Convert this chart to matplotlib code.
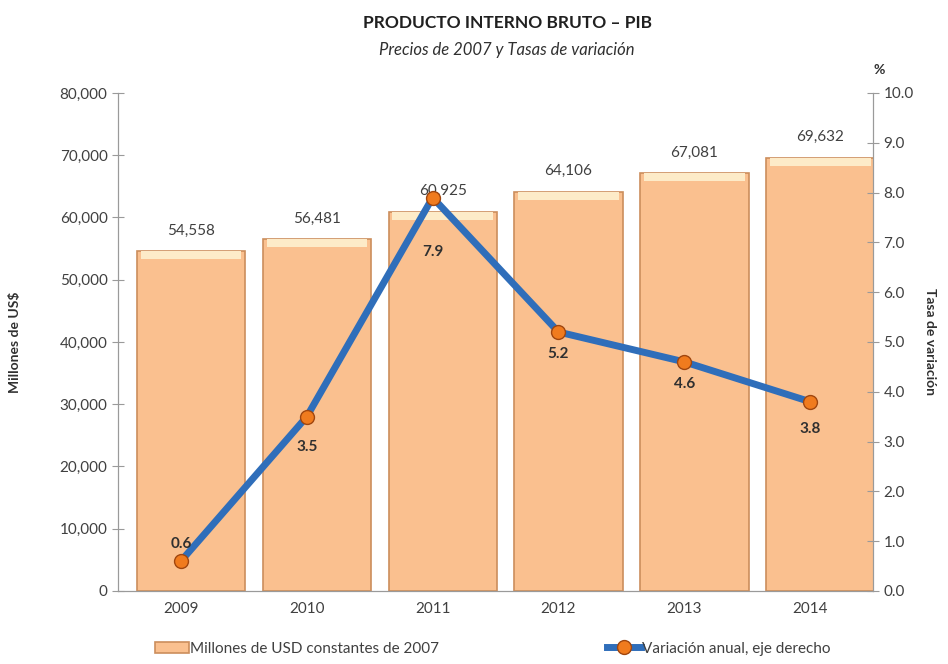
import matplotlib.pyplot as plt
import numpy as np

plt.rcParams['font.family'] = ['Lato', 'DejaVu Sans']

# Datos
anios = ['2009', '2010', '2011', '2012', '2013', '2014']
pib = [54558, 56481, 60925, 64106, 67081, 69632]
variacion = [0.6, 3.5, 7.9, 5.2, 4.6, 3.8]

gris = '#9a9a9a'
texto = '#404040'

fig = plt.figure(figsize=(9.48, 6.64), dpi=100)
ax = fig.add_axes([0.1245, 0.11, 0.7965, 0.75])
ax2 = ax.twinx()

x = np.arange(len(anios))

# Barras
barras = ax.bar(x + 0.08, pib, width=0.86, color='#FAC08F', edgecolor='#CC8E5C',
                linewidth=1.2, zorder=2, label='Millones de USD constantes de 2007')
# brillo en la parte superior de cada barra
franja = 1300
ax.bar(x + 0.08, [franja] * len(pib), bottom=[v - franja for v in pib], width=0.8,
       color='#FDEBC8', linewidth=0, zorder=2.5)
for b, v in zip(barras, pib):
    ax.text(b.get_x() + b.get_width() / 2, v + 2200, f'{v:,}', ha='center',
            va='bottom', fontsize=11, color=texto)

# Linea
linea, = ax2.plot(x, variacion, color='#2F6EBA', linewidth=5, marker='o',
                  markersize=10, markerfacecolor='#F07B1E', markeredgecolor='#A0460F',
                  markeredgewidth=1, zorder=3, label='Variación anual, eje derecho')
desp = [0.35, -0.6, -1.1, -0.45, -0.45, -0.55]
for i, (v, d) in enumerate(zip(variacion, desp)):
    ax2.text(i, v + d, f'{v:.1f}', ha='center', va='center', fontsize=11,
             fontweight='bold', color='#303030')

ax.set_xlim(-0.5, 5.5)
ax.set_ylim(0, 80000)
ax.set_yticks(np.arange(0, 80001, 10000))
ax.set_yticklabels([f'{v:,}' for v in range(0, 80001, 10000)])
ax2.set_ylim(0, 10)
ax2.set_yticks(np.arange(0, 10.1, 1))
ax2.set_yticklabels([f'{v:.1f}' for v in np.arange(0, 10.1, 1)])

ax.set_xticks(x)
ax.set_xticklabels(anios)

for a in (ax, ax2):
    a.spines['top'].set_visible(False)
    for s in ('left', 'right', 'bottom'):
        a.spines[s].set_color(gris)
    a.tick_params(colors=gris, labelcolor=texto, labelsize=11)
ax.tick_params(axis='x', length=0, pad=8)
ax.tick_params(axis='y', direction='inout', length=8)
ax2.tick_params(axis='y', direction='inout', length=8)

ax.set_ylabel('Millones de US$', fontsize=10, fontweight='bold', color='#303030', labelpad=28)
ax2.set_ylabel('Tasa de variación', fontsize=10, fontweight='bold', color='#303030',
               rotation=270, labelpad=16)
ax2.text(1.0, 1.035, '%', transform=ax2.transAxes, fontsize=10, fontweight='bold',
         color='#303030', ha='left', va='bottom')

fig.text(0.535, 0.965, 'PRODUCTO INTERNO BRUTO – PIB', ha='center', va='center',
         fontsize=12.5, fontweight='bold', color='#202020')
fig.text(0.535, 0.925, 'Precios de 2007 y Tasas de variación', ha='center', va='center',
         fontsize=12, style='italic', color='#303030')

fig.legend(handles=[barras, linea], loc='lower center', bbox_to_anchor=(0.52, -0.008),
           ncol=2, frameon=False, fontsize=11, columnspacing=11, handlelength=2.2,
           handletextpad=0.1, labelcolor=texto)

fig.savefig('out.png', dpi=100)
